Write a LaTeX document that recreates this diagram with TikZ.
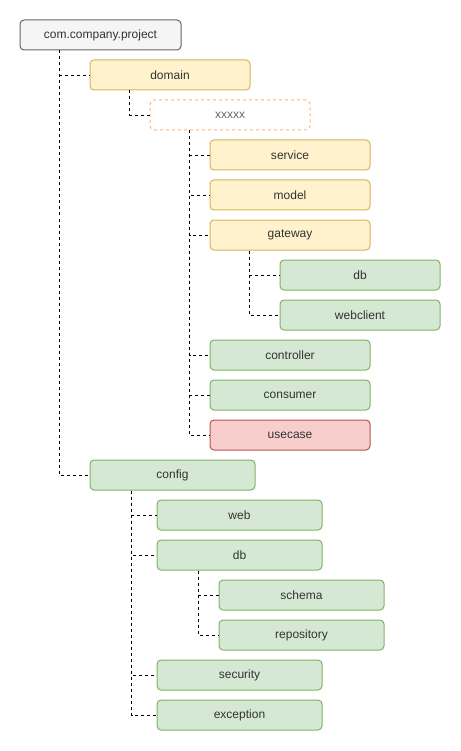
\documentclass[tikz,border=0pt]{standalone}
\usepackage{fontspec}
\setmainfont{Liberation Sans}
\definecolor{grayfill}{HTML}{F5F5F5}
\definecolor{graystroke}{HTML}{666666}
\definecolor{graytext}{HTML}{333333}
\definecolor{yelfill}{HTML}{FFF2CC}
\definecolor{yelstroke}{HTML}{D6B656}
\definecolor{grnfill}{HTML}{D5E8D4}
\definecolor{grnstroke}{HTML}{82B366}
\definecolor{redfill}{HTML}{F8CECC}
\definecolor{redstroke}{HTML}{B85450}
\definecolor{orgstroke}{HTML}{FFB570}
\definecolor{xtext}{HTML}{666666}
\begin{document}
\begin{tikzpicture}[x=1pt,y=-1pt,
  box/.style={rounded corners=4pt, line width=1pt, minimum height=30pt, inner sep=0pt,
    font=\fontsize{12}{14}\selectfont, text=graytext},
  rootbox/.style={box, fill=grayfill, draw=graystroke, minimum width=161pt},
  ybox/.style={box, fill=yelfill, draw=yelstroke, minimum width=160pt},
  gbox/.style={box, fill=grnfill, draw=grnstroke},
  rbox/.style={box, fill=redfill, draw=redstroke, minimum width=160pt},
  obox/.style={box, fill=white, draw=orgstroke, dashed, dash pattern=on 3pt off 3pt, minimum width=160pt, text=xtext},
  conn/.style={draw=black, line width=0.9pt, dash pattern=on 3pt off 3pt}
]
\useasboundingbox (0,0) rectangle (460,751);
\node[rootbox] (root) at (100.5,35) {com.company.project};
\node[ybox] (domain) at (170,75) {domain};
\node[obox] (xx) at (230,115) {xxxxx};
\node[ybox] (service) at (290,155) {service};
\node[ybox] (model) at (290,195) {model};
\node[ybox] (gateway) at (290,235) {gateway};
\node[gbox, minimum width=160pt] (gdb) at (360,275) {db};
\node[gbox, minimum width=160pt] (webclient) at (360,315) {webclient};
\node[gbox, minimum width=160pt] (controller) at (290,355) {controller};
\node[gbox, minimum width=160pt] (consumer) at (290,395) {consumer};
\node[rbox] (usecase) at (290,435) {usecase};
\node[gbox, minimum width=165pt] (config) at (172.5,475) {config};
\node[gbox, minimum width=165pt] (web) at (239.5,515) {web};
\node[gbox, minimum width=165pt] (cdb) at (239.5,555) {db};
\node[gbox, minimum width=165pt] (schema) at (301.5,595) {schema};
\node[gbox, minimum width=165pt] (repository) at (301.5,635) {repository};
\node[gbox, minimum width=165pt] (security) at (239.5,675) {security};
\node[gbox, minimum width=165pt] (exception) at (239.5,715) {exception};

\draw[conn] ([xshift=40pt]root.south west) |- (domain.west);
\draw[conn] ([xshift=40pt]root.south west) |- (config.west);
\draw[conn] ([xshift=40pt]domain.south west) |- (xx.west);
\foreach \t in {service,model,gateway,controller,consumer,usecase}
  \draw[conn] ([xshift=40pt]xx.south west) |- (\t.west);
\foreach \t in {gdb,webclient}
  \draw[conn] ([xshift=40pt]gateway.south west) |- (\t.west);
\foreach \t in {web,cdb,security,exception}
  \draw[conn] ([xshift=42pt]config.south west) |- (\t.west);
\foreach \t in {schema,repository}
  \draw[conn] ([xshift=42pt]cdb.south west) |- (\t.west);
\end{tikzpicture}
\end{document}
